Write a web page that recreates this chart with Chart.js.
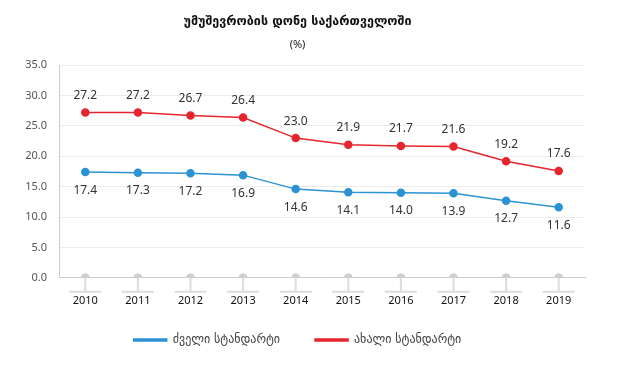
<!DOCTYPE html>
<html>
<head>
<meta charset="utf-8">
<script src="https://cdn.jsdelivr.net/npm/chart.js@4"></script>
<style>
  html, body { margin: 0; padding: 0; background: #fff; }
  #wrap { width: 617px; height: 367px; }
</style>
</head>
<body>
<div id="wrap"><canvas id="unempChart" width="617" height="367"></canvas></div>
<script>
const years = ['2010', '2011', '2012', '2013', '2014', '2015', '2016', '2017', '2018', '2019'];
const oldStandard = [17.4, 17.3, 17.2, 16.9, 14.6, 14.1, 14.0, 13.9, 12.7, 11.6];
const newStandard = [27.2, 27.2, 26.7, 26.4, 23.0, 21.9, 21.7, 21.6, 19.2, 17.6];
const baseline = [0, 0, 0, 0, 0, 0, 0, 0, 0, 0];
const yTicks = [0, 5, 10, 15, 20, 25, 30, 35];

const BLUE = '#2b93d3';
const RED = '#e6262e';
const GRAY = '#cfcfcf';

// value labels: blue under the point, red above
const valueLabels = {
  id: 'valueLabels',
  afterDatasetsDraw(chart) {
    const ctx = chart.ctx;
    ctx.save();
    ctx.font = '12px "Noto Sans", sans-serif';
    ctx.fillStyle = '#333';
    ctx.textAlign = 'center';
    ctx.textBaseline = 'middle';
    [0, 1].forEach(i => {
      const meta = chart.getDatasetMeta(i);
      const data = chart.data.datasets[i].data;
      meta.data.forEach((pt, j) => {
        const dy = i === 0 ? 18 : -17;
        ctx.fillText(data[j].toFixed(1), pt.x, pt.y + dy);
      });
    });
    ctx.restore();
  }
};

// little stem + bar under each year, like the original
const yearStems = {
  id: 'yearStems',
  beforeDatasetsDraw(chart) {
    const ctx = chart.ctx;
    const x = chart.scales.x;
    const y0 = chart.scales.y.getPixelForValue(0);
    ctx.save();
    ctx.strokeStyle = '#dcdcdc';
    ctx.lineWidth = 2;
    years.forEach((_, i) => {
      const px = x.getPixelForValue(i);
      ctx.beginPath();
      ctx.moveTo(px, y0);
      ctx.lineTo(px, y0 + 14);
      ctx.moveTo(px - 16, y0 + 14);
      ctx.lineTo(px + 16, y0 + 14);
      ctx.stroke();
    });
    ctx.restore();
  }
};

const ctx = document.getElementById('unempChart').getContext('2d');
const chart = new Chart(ctx, {
  type: 'line',
  data: {
    labels: years,
    datasets: [
      {
        label: 'ძველი სტანდარტი',
        data: oldStandard,
        borderColor: BLUE,
        backgroundColor: BLUE,
        pointBackgroundColor: BLUE,
        pointBorderColor: BLUE,
        borderWidth: 1.5,
        pointRadius: 3.5,
        tension: 0
      },
      {
        label: 'ახალი სტანდარტი',
        data: newStandard,
        borderColor: RED,
        backgroundColor: RED,
        pointBackgroundColor: RED,
        pointBorderColor: RED,
        borderWidth: 1.5,
        pointRadius: 3.5,
        tension: 0
      },
      {
        label: 'base',
        data: baseline,
        showLine: false,
        borderColor: GRAY,
        backgroundColor: GRAY,
        pointBackgroundColor: GRAY,
        pointBorderColor: GRAY,
        pointRadius: 4
      }
    ]
  },
  options: {
    responsive: false,
    animation: false,
    layout: { padding: { left: 10, right: 32, top: 4, bottom: 11 } },
    plugins: {
      title: {
        display: true,
        text: 'უმუშევრობის დონე საქართველოში',
        color: '#111',
        font: { family: '"DejaVu Sans", sans-serif', size: 12.5, weight: 'bold' },
        padding: { top: 10, bottom: 6 }
      },
      subtitle: {
        display: true,
        text: '(%)',
        color: '#222',
        font: { family: '"Noto Sans", sans-serif', size: 11 },
        padding: { top: 3, bottom: 14 }
      },
      legend: {
        position: 'bottom',
        labels: {
          boxWidth: 33,
          boxHeight: 2,
          padding: 11,
          color: '#444',
          font: { family: '"DejaVu Sans", sans-serif', size: 12 },
          generateLabels: chart => {
            const items = Chart.defaults.plugins.legend.labels.generateLabels(chart)
              .filter(item => item.datasetIndex !== 2);
            // wider gap between the two items without more vertical padding
            items[0].text += '\u2003\u2003';
            return items;
          }
        }
      },
      tooltip: { enabled: false }
    },
    scales: {
      x: {
        offset: true,
        grid: { display: false, drawTicks: false },
        border: { display: true, color: '#cccccc' },
        ticks: {
          color: '#111',
          padding: 16,
          font: { family: '"Noto Sans", sans-serif', size: 11 }
        }
      },
      y: {
        min: 0,
        max: 35,
        afterBuildTicks: axis => { axis.ticks = yTicks.map(v => ({ value: v })); },
        afterFit: axis => { axis.width = 49; },
        grid: { color: '#ececec', drawTicks: false },
        border: { display: true, color: '#cccccc' },
        ticks: {
          color: '#555',
          padding: 12,
          font: { family: '"Noto Sans", sans-serif', size: 11 },
          callback: v => v.toFixed(1)
        }
      }
    }
  },
  plugins: [yearStems, valueLabels]
});
</script>
</body>
</html>
